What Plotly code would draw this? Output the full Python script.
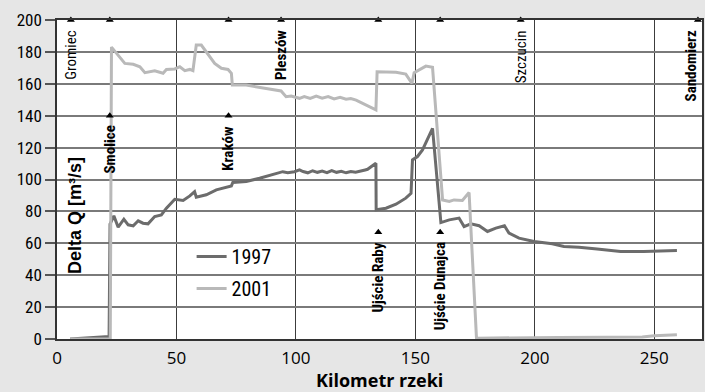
import plotly.graph_objects as go

# --- data ---
km_1997 = [5.5, 10, 15, 21.8, 22.2, 23.8, 25.6, 28.0, 29.8, 31.9, 34.0, 36.0, 38.1, 40.9, 43.7,
           45.8, 49.3, 52.8, 55.6, 57.6, 58.3, 62.5, 66.7, 70.9, 73.0, 73.6, 79.2, 84.8, 90.4,
           94.5, 96.6, 99.4, 101.5, 103, 105, 107, 109, 111, 113, 115, 117, 119, 121, 123, 125,
           127, 129, 130, 133.5, 133.6, 137.7, 141.9, 146.0, 148.2, 148.8, 150.9, 153.0, 157.2,
           160.7, 164.2, 168.3, 170.4, 173.2, 176.7, 180.2, 183.7, 187.3, 189.2, 193.4, 199.7,
           207.3, 212.2, 218.5, 226.1, 235.9, 245.6, 259.5]
q_1997 = [0.0, 0.4, 0.8, 1.5, 72.0, 77.2, 70.1, 75.1, 71.6, 70.9, 74.1, 72.6, 72.2, 76.8, 77.8,
          82.0, 87.6, 86.8, 89.7, 92.4, 88.9, 90.4, 93.5, 95.2, 96.0, 98.1, 98.7, 100.8, 103.3,
          104.9, 104.3, 104.9, 106.0, 105.0, 104.2, 105.5, 104.5, 105.3, 104.3, 105.6, 104.5, 105.2, 104.2, 105.0, 104.5,
          105.5, 106.0, 106.4, 110.2, 81.0, 82.0, 84.5, 88.3, 91.4, 112.3, 114.4, 118.5, 132.1,
          73.0, 74.7, 75.8, 70.5, 72.2, 71.0, 67.4, 69.5, 71.0, 66.4, 63.2, 61.1,
          59.7, 58.0, 57.5, 56.4, 54.9, 54.9, 55.5]

km_2001 = [5.5, 22.3, 22.8, 28.4, 31.9, 34.7, 36.8, 40.9, 44.4, 45.8, 49.3, 51.4, 53.5, 55.6,
           56.9, 58.3, 60.4, 62.5, 66.0, 68.8, 71.6, 73.0, 73.4, 79.2, 83.4, 90.4, 93.8, 95.9,
           98.0, 101.5, 103.5, 106, 108.5, 111, 113.5, 116, 118.5, 121, 123, 125.2, 129.4, 133.5,
           134.0, 141.9, 146.0, 148.6, 149.5, 154.4, 157.2, 161.4, 164.2, 166.2, 169.7, 172.5,
           175.6, 190, 210, 230, 245, 250, 259.5]
q_2001 = [0.0, 0.0, 183.0, 172.8, 172.2, 170.7, 167.0, 168.2, 166.6, 169.0, 169.3, 170.7, 168.2, 169.0,
          168.2, 184.3, 184.3, 180.0, 172.8, 169.7, 169.0, 166.6, 159.2, 159.2, 158.2, 156.5, 155.5, 151.9,
          152.3, 150.9, 152.0, 150.8, 152.3, 151.0, 152.0, 150.5, 151.5, 150.3, 150.8, 149.8, 146.7, 143.6,
          167.6, 167.2, 166.1, 160.3, 166.9, 171.1, 170.3, 87.2, 86.2, 87.2, 86.8, 91.8,
          0.5, 0.8, 1.0, 1.1, 1.3, 2.0, 2.7]

place_names = ["Gromiec", "Smolice", "Kraków", "Pleszów", "Ujście Raby", "Ujście Dunajca",
               "Szczucin", "Sandomierz"]
place_km = [5.8, 22.1, 71.8, 93.8, 134.5, 160.4, 194.1, 268.3]
place_label_q = [200, 140, 140, 200, 67, 67, 200, 200]   # level at which the label hangs
place_bold = [False, True, True, True, True, True, False, True]

x_ticks = [0, 50, 100, 150, 200, 250]
y_ticks = [0, 20, 40, 60, 80, 100, 120, 140, 160, 180, 200]

NARROW = "Roboto Condensed, DejaVu Sans Condensed, sans-serif"

fig = go.Figure()
fig.add_trace(go.Scatter(x=km_1997, y=q_1997, mode="lines", name="1997",
                         line=dict(color="#6c6c6c", width=3), legendgroup="a"))
fig.add_trace(go.Scatter(x=km_2001, y=q_2001, mode="lines", name="2001",
                         line=dict(color="#b9b9b9", width=3), legendgroup="b"))

# triangle markers: all at top, some also at label level
tri_x = list(place_km)
tri_y = [200] * len(place_km)
for k, q in zip(place_km, place_label_q):
    if q != 200:
        tri_x.append(k)
        tri_y.append(q)
fig.add_trace(go.Scatter(x=tri_x, y=tri_y, mode="markers", showlegend=False,
                         marker=dict(symbol="triangle-up", size=7, color="black"),
                         cliponaxis=False))

for name, k, q, b in zip(place_names, place_km, place_label_q, place_bold):
    fig.add_annotation(x=k, y=q, xref="x", yref="y", text=(f"<b>{name}</b>" if b else name),
                       showarrow=False, textangle=-90, xanchor="center", yanchor="top",
                       yshift=-8, xshift=(-7 if name == "Sandomierz" else 0),
                       font=dict(family=NARROW, size=15, color="black"))

fig.add_annotation(x=0.028, y=0.386, xref="paper", yref="paper", text="<b>Delta Q [m³/s]</b>",
                   showarrow=False, textangle=-90, xanchor="center", yanchor="middle",
                   font=dict(family="Liberation Sans, Arial, sans-serif", size=18, color="black"))

fig.add_annotation(x=0.5, y=-0.127, xref="paper", yref="paper", text="<b>Kilometr rzeki</b>",
                   showarrow=False, xanchor="center", yanchor="middle",
                   font=dict(family="Open Sans, sans-serif", size=18, color="black"))

fig.update_layout(
    width=705, height=392,
    margin=dict(l=57, r=1, t=20, b=53),
    paper_bgcolor="#e6e6e6", plot_bgcolor="white",
    showlegend=True,
    legend=dict(x=0.2087, y=0.32, xanchor="left", yanchor="top", bgcolor="rgba(0,0,0,0)",
                font=dict(family=NARROW, size=20, color="black"), tracegroupgap=3),
    xaxis=dict(range=[0, 270], tickvals=x_ticks, showgrid=True, gridcolor="#3c3c3c", gridwidth=1,
               zeroline=False, showline=True, linecolor="#333", linewidth=1.5, mirror=True,
               ticks="outside", ticklen=3, tickcolor="rgba(0,0,0,0)",
               tickfont=dict(family="Open Sans, sans-serif", size=17, color="black")),
    yaxis=dict(range=[0, 200], tickvals=y_ticks, showgrid=True, gridcolor="#7a7a7a", gridwidth=1.5,
               zeroline=False, showline=True, linecolor="#333", linewidth=1.5, mirror=True,
               ticks="outside", ticklen=10, tickcolor="#555", tickwidth=1.5,
               tickfont=dict(family=NARROW, size=17, color="black")),
)

fig.write_html("out.html")
